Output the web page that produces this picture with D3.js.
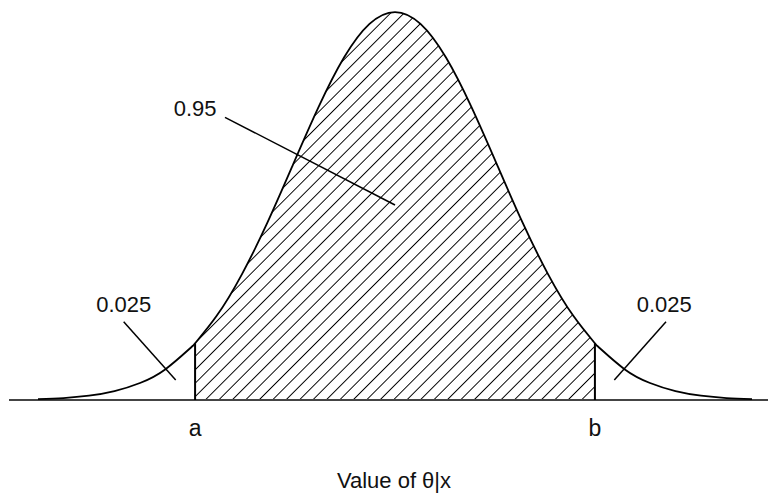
<!DOCTYPE html>
<html>
<head>
<meta charset="utf-8">
<script src="https://cdn.jsdelivr.net/npm/d3@7"></script>
<style>
  html, body { margin: 0; padding: 0; background: #fff; }
  svg { display: block; }
  text { font-family: "Liberation Sans", Arial, Helvetica, sans-serif; fill: #111; }
</style>
</head>
<body>
<svg id="chart" width="768" height="495"></svg>
<script>
// Posterior density of theta given x, sampled along the standardised axis
const zValues = [-3.5, -3.25, -3, -2.75, -2.5, -2.25, -2, -1.96, -1.75, -1.5, -1.25, -1, -0.75, -0.5, -0.25, 0,
                 0.25, 0.5, 0.75, 1, 1.25, 1.5, 1.75, 1.96, 2, 2.25, 2.5, 2.75, 3, 3.25, 3.5];
const densityValues = [0.0009, 0.0020, 0.0044, 0.0091, 0.0175, 0.0317, 0.0540, 0.0584, 0.0863, 0.1295, 0.1826, 0.2420, 0.3011, 0.3521, 0.3867, 0.3989,
                       0.3867, 0.3521, 0.3011, 0.2420, 0.1826, 0.1295, 0.0863, 0.0584, 0.0540, 0.0317, 0.0175, 0.0091, 0.0044, 0.0020, 0.0009];

// Credible interval bounds and their labels
const intervalBounds = [-1.96, 1.96];
const boundLabels = ["a", "b"];
const boundDensity = [0.0584, 0.0584];

// Probability annotations: text, where the text sits (z, density) and where the pointer runs
const areaLabels = ["0.025", "0.95", "0.025"];
const areaLabelAt = [[-2.66, 0.091], [-1.96, 0.292], [2.64, 0.091]];
const areaPointerFrom = [[-2.66, 0.0805], [-1.667, 0.2907], [2.657, 0.0805]];
const areaPointerTo = [[-2.15, 0.0206], [0, 0.2005], [2.15, 0.0206]];

const axisTitle = "Value of θ|x";

const svg = d3.select("#chart");
const x = d3.scaleLinear().domain([-3.5, 3.5]).range([38, 752]);
const y = d3.scaleLinear().domain([0, 0.4]).range([400, 11]);

const pts = zValues.map((z, i) => ({ z, d: densityValues[i] }));

// Diagonal hatching for the central 95% region
const defs = svg.append("defs");
defs.append("pattern")
  .attr("id", "hatch")
  .attr("patternUnits", "userSpaceOnUse")
  .attr("width", 9.5).attr("height", 9.5)
  .attr("patternTransform", "rotate(45)")
  .append("line")
  .attr("x1", 0).attr("y1", -1).attr("x2", 0).attr("y2", 10.5)
  .attr("stroke", "#000").attr("stroke-width", 1.9);

defs.append("clipPath").attr("id", "interval")
  .append("rect")
  .attr("x", x(intervalBounds[0]))
  .attr("y", 0)
  .attr("width", x(intervalBounds[1]) - x(intervalBounds[0]))
  .attr("height", y(0));

const curve = d3.curveNatural;
const area = d3.area().x(p => x(p.z)).y0(y(0)).y1(p => y(p.d)).curve(curve);
const line = d3.line().x(p => x(p.z)).y(p => y(p.d)).curve(curve);

svg.append("path")
  .datum(pts)
  .attr("d", area)
  .attr("fill", "url(#hatch)")
  .attr("clip-path", "url(#interval)");

// Baseline
svg.append("line")
  .attr("x1", 9).attr("x2", 768)
  .attr("y1", y(0)).attr("y2", y(0))
  .attr("stroke", "#444").attr("stroke-width", 2);

// Density curve
svg.append("path")
  .datum(pts)
  .attr("d", line)
  .attr("fill", "none")
  .attr("stroke", "#000")
  .attr("stroke-width", 1.8);

// Interval bound verticals and labels
intervalBounds.forEach((b, i) => {
  svg.append("line")
    .attr("x1", x(b)).attr("x2", x(b))
    .attr("y1", y(0)).attr("y2", y(boundDensity[i]))
    .attr("stroke", "#000").attr("stroke-width", 2);
  svg.append("text")
    .attr("x", x(b)).attr("y", 436)
    .attr("text-anchor", "middle")
    .attr("font-size", 23)
    .text(boundLabels[i]);
});

// Area annotations with pointer lines
areaLabels.forEach((t, i) => {
  svg.append("text")
    .attr("x", x(areaLabelAt[i][0])).attr("y", y(areaLabelAt[i][1]))
    .attr("text-anchor", "middle")
    .attr("font-size", 22)
    .text(t);
  svg.append("line")
    .attr("x1", x(areaPointerFrom[i][0])).attr("y1", y(areaPointerFrom[i][1]))
    .attr("x2", x(areaPointerTo[i][0])).attr("y2", y(areaPointerTo[i][1]))
    .attr("stroke", "#000").attr("stroke-width", 1.5);
});

// Axis title
svg.append("text")
  .attr("x", 394).attr("y", 488)
  .attr("text-anchor", "middle")
  .attr("font-size", 22)
  .text(axisTitle);
</script>
</body>
</html>
